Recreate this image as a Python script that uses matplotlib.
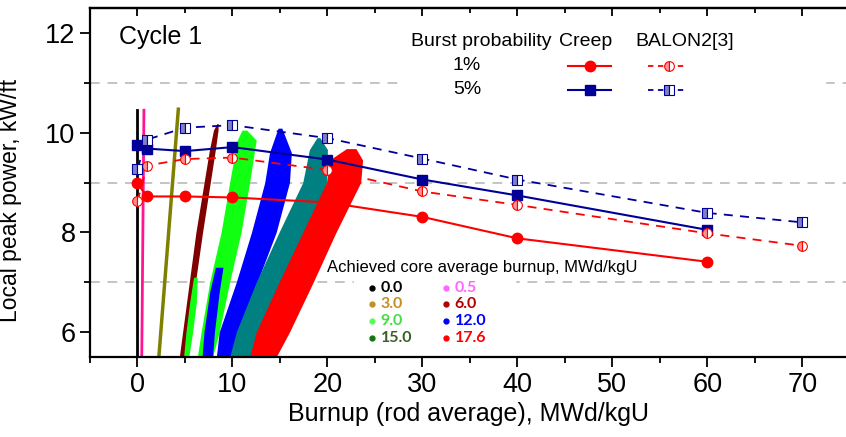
import matplotlib
matplotlib.use('Agg')
import matplotlib.pyplot as plt
from matplotlib.patches import Rectangle
from matplotlib.ticker import MultipleLocator, NullFormatter

plt.rcParams['font.family'] = ['Liberation Sans', 'DejaVu Sans']

# burst probability curves (rod average burnup vs local peak power)
creep_1_x = [0, 1, 5, 10, 20, 30, 40, 60]
creep_1_y = [8.98, 8.72, 8.72, 8.70, 8.60, 8.31, 7.88, 7.41]
creep_5_x = [0, 1, 5, 10, 20, 30, 40, 60]
creep_5_y = [9.75, 9.68, 9.63, 9.71, 9.46, 9.06, 8.74, 8.05]
balon_1_x = [0, 1, 5, 10, 20, 30, 40, 60, 70]
balon_1_y = [8.62, 9.34, 9.47, 9.50, 9.25, 8.82, 8.55, 7.98, 7.73]
balon_5_x = [0, 1, 5, 10, 20, 30, 40, 60, 70]
balon_5_y = [9.28, 9.86, 10.10, 10.15, 9.89, 9.48, 9.06, 8.39, 8.20]

# thin lines for the first achieved core burnups
line_00_x = [0.0, 0.0]
line_00_y = [5.5, 10.45]
line_05_x = [0.45, 0.68]
line_05_y = [5.5, 10.45]
line_30_x = [2.25, 4.3]
line_30_y = [5.5, 10.47]

# point clouds, outlined by left / right edge at given power levels
band_60_y = [5.5, 7.0, 8.0, 9.66, 10.05, 10.18]
band_60_l = [4.40, 5.45, 6.15, 7.58, 8.00, 8.35]
band_60_r = [4.95, 6.10, 6.85, 8.20, 8.48, 8.50]

band_90a_y = [5.5, 6.0, 6.6, 7.1]
band_90a_l = [4.85, 5.10, 5.50, 5.90]
band_90a_r = [5.40, 5.80, 6.20, 6.30]
band_90_y = [5.5, 6.0, 7.0, 8.0, 9.0, 9.85, 10.05]
band_90_l = [6.30, 6.70, 7.60, 8.80, 9.70, 10.50, 11.00]
band_90_r = [7.90, 8.60, 9.70, 10.90, 11.80, 12.50, 11.50]

band_120a_y = [5.5, 6.0, 6.8, 7.3]
band_120a_l = [6.80, 7.00, 7.60, 8.20]
band_120a_r = [7.90, 8.10, 8.60, 9.00]
band_120_y = [5.5, 6.0, 7.0, 8.0, 9.0, 9.6, 10.09]
band_120_l = [8.30, 8.60, 10.40, 12.00, 13.40, 13.90, 14.80]
band_120_r = [10.40, 11.40, 12.60, 14.60, 16.00, 16.20, 15.20]

band_150_y = [5.5, 6.0, 7.0, 8.0, 9.0, 9.66, 9.9]
band_150_l = [9.70, 10.40, 12.50, 14.90, 17.40, 18.10, 18.90]
band_150_r = [12.50, 13.90, 16.70, 18.80, 19.90, 20.00, 19.20]

band_176_y = [5.5, 6.0, 7.0, 8.0, 9.0, 9.45, 9.68]
band_176_l = [11.80, 12.50, 14.90, 17.40, 19.90, 20.20, 22.00]
band_176_r = [14.60, 16.00, 18.50, 20.90, 23.50, 23.70, 23.00]

legend_labels = ['0.0', '3.0', '9.0', '15.0', '0.5', '6.0', '12.0', '17.6']
legend_dots = ['#000000', '#c09020', '#55ff55', '#117711',
               '#ff66ff', '#b00000', '#0000ff', '#ff0000']
legend_text = ['#000000', '#c09020', '#44dd44', '#3a5f2a',
               '#ff66ff', '#b00000', '#0000ff', '#ff0000']

RED = '#ff0000'
NAVY = '#000099'

fig = plt.figure(figsize=(8.46, 4.37), dpi=100)
ax = fig.add_axes([90/846, 1 - 357/437, 1 - 90/846, (357 - 8)/437])

# clouds
ax.plot(line_00_x, line_00_y, color='black', lw=2, zorder=2)
ax.plot(line_05_x, line_05_y, color='#ff1493', lw=2, zorder=2)
ax.plot(line_30_x, line_30_y, color='#808000', lw=2.5, zorder=2)
ax.fill_betweenx(band_60_y, band_60_l, band_60_r, color='#800000', lw=0, zorder=2)
ax.fill_betweenx(band_90a_y, band_90a_l, band_90a_r, color='#11ff11', lw=0, zorder=2)
ax.fill_betweenx(band_90_y, band_90_l, band_90_r, color='#11ff11', lw=0, zorder=2)
ax.fill_betweenx(band_120a_y, band_120a_l, band_120a_r, color='#0000ff', lw=0, zorder=2)
ax.fill_betweenx(band_120_y, band_120_l, band_120_r, color='#0000ff', lw=0, zorder=2)
ax.fill_betweenx(band_150_y, band_150_l, band_150_r, color='#008080', lw=0, zorder=2)
ax.fill_betweenx(band_176_y, band_176_l, band_176_r, color='#ff0000', lw=0, zorder=2)

# burst curves
ax.plot(creep_1_x, creep_1_y, color=RED, lw=1.5, marker='o', ms=7.5, zorder=4)
ax.plot(creep_5_x, creep_5_y, color=NAVY, lw=1.5, marker='s', ms=7.5, zorder=4)
hb = dict(ms=7, fillstyle='left', markerfacecoloralt='white', mew=0.8)
ax.plot(balon_1_x, balon_1_y, color=RED, lw=1.3, ls=(0, (5, 4)), marker='o',
        mfc='#ff9090', mec=RED, zorder=4, **hb)
ax.plot(balon_5_x, balon_5_y, color=NAVY, lw=1.3, ls=(0, (5, 4)), marker='s',
        mfc='#8080c8', mec=NAVY, zorder=4, **hb)

# axes
ax.set_xlim(-5, 74.6)
ax.set_ylim(5.5, 12.5)
ax.xaxis.set_major_locator(MultipleLocator(10))
ax.xaxis.set_minor_locator(MultipleLocator(5))
ax.yaxis.set_major_locator(MultipleLocator(2))
ax.yaxis.set_minor_locator(MultipleLocator(1))
ax.spines['right'].set_visible(False)
for s in ['left', 'bottom', 'top']:
    ax.spines[s].set_linewidth(1.6)
ax.tick_params(which='both', direction='out', width=1.3, labelsize=19.5)
ax.tick_params(which='major', length=7)
ax.tick_params(which='minor', length=4)

top = ax.secondary_xaxis('top')
top.xaxis.set_major_locator(MultipleLocator(10))
top.xaxis.set_minor_locator(MultipleLocator(5))
top.xaxis.set_major_formatter(NullFormatter())
top.spines['top'].set_linewidth(1.6)
top.tick_params(which='both', direction='in', width=1.3)
top.tick_params(which='major', length=6)
top.tick_params(which='minor', length=3.5)

ax.yaxis.grid(True, which='minor', color='#c4c4c4', ls=(0, (5, 4)), lw=1.4, zorder=0.5)
ax.set_xlabel('Burnup (rod average), MWd/kgU', fontsize=18, labelpad=3)
ax.set_ylabel('Local peak power, kW/ft', fontsize=16.5)
ax.yaxis.set_label_coords(-0.09, 0.45)

ax.text(-1.9, 11.92, 'Cycle 1', fontsize=18, va='center', ha='left')

# burst probability legend
ax.add_patch(Rectangle((28.2, 10.68), 44.2, 1.58, color='white', zorder=3.5))
ax.text(36.2, 11.82, 'Burst probability', fontsize=14, ha='center', va='center', zorder=5)
ax.text(47.2, 11.82, 'Creep', fontsize=14, ha='center', va='center', zorder=5)
ax.text(57.6, 11.82, 'BALON2[3]', fontsize=14, ha='center', va='center', zorder=5)
ax.text(34.7, 11.34, '1%', fontsize=14, ha='center', va='center', zorder=5)
ax.text(34.7, 10.86, '5%', fontsize=14, ha='center', va='center', zorder=5)
for yy, c, m, mfc in [(11.34, RED, 'o', '#ff9090'), (10.86, NAVY, 's', '#8080c8')]:
    ax.plot([45.3, 49.9], [yy, yy], color=c, lw=1.5, zorder=5)
    ax.plot([47.6], [yy], color=c, marker=m, ms=7.5, zorder=5)
    ax.plot([53.7, 57.6], [yy, yy], color=c, lw=1.3, ls=(0, (3, 2.5)), zorder=5)
    ax.plot([56.0], [yy], color=c, marker=m, mfc=mfc, mec=c, zorder=5, **hb)

# achieved burnup legend
ax.add_patch(Rectangle((22.8, 5.6), 16.9, 1.48, color='white', zorder=3.5))
ax.text(20.0, 7.3, 'Achieved core average burnup, MWd/kgU', fontsize=12,
        ha='left', va='center', zorder=5)
rows = [6.89, 6.56, 6.23, 5.89]
for i, lab in enumerate(legend_labels):
    col = i // 4
    yy = rows[i % 4]
    dx = [24.66, 32.5][col]
    tx = [25.6, 33.4][col]
    ax.plot([dx], [yy], 'o', color=legend_dots[i], ms=3.5, zorder=5)
    ax.text(tx, yy, lab, color=legend_text[i], fontsize=11.5, fontweight='bold',
            family=['Lato', 'DejaVu Sans'], ha='left', va='center', zorder=5)

fig.savefig('out.png', dpi=100)
